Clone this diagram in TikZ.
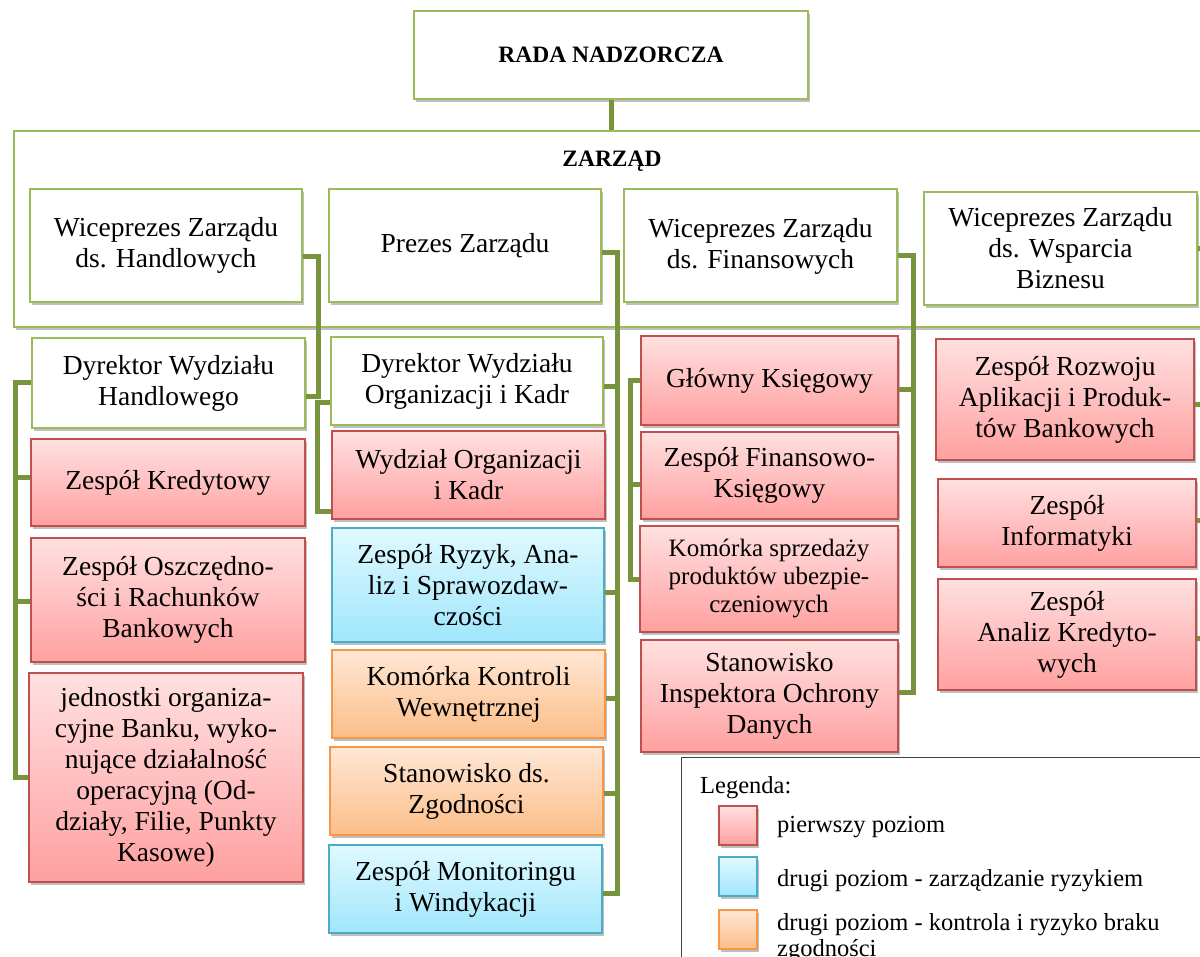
\documentclass[tikz,border=0pt]{standalone}
\usepackage{fontspec}
\setmainfont{Liberation Serif}
\usetikzlibrary{shadows}
\definecolor{gborder}{RGB}{155,187,89}
\definecolor{conncol}{RGB}{119,147,60}
\definecolor{redtop}{RGB}{255,224,224}
\definecolor{redbot}{RGB}{255,160,160}
\definecolor{redbd}{RGB}{192,80,77}
\definecolor{bluetop}{RGB}{224,249,255}
\definecolor{bluebot}{RGB}{160,230,252}
\definecolor{bluebd}{RGB}{75,172,198}
\definecolor{ortop}{RGB}{255,231,214}
\definecolor{orbot}{RGB}{252,190,136}
\definecolor{orbd}{RGB}{247,150,70}
\begin{document}
\begin{tikzpicture}[x=1pt,y=-1pt,
  base/.style={rectangle, align=center, inner sep=2pt, line width=2pt, text=black,
    font=\fontsize{27.5}{31}\selectfont,
    drop shadow={shadow xshift=2pt, shadow yshift=-3pt, opacity=0.25, fill=black}},
  sz/.style 2 args={minimum width=#1pt, minimum height=#2pt},
  greenbox/.style={base, draw=gborder, fill=white},
  redbox/.style={base, draw=redbd, top color=redtop, bottom color=redbot},
  bluebox/.style={base, draw=bluebd, top color=bluetop, bottom color=bluebot},
  orbox/.style={base, draw=orbd, top color=ortop, bottom color=orbot},
  boldtxt/.style={font=\fontsize{23.5}{28}\selectfont\bfseries},
  smalltxt/.style={font=\fontsize{25}{28}\selectfont},
  legtxt/.style={font=\fontsize{24.5}{26}\selectfont, align=left, inner sep=0pt},
  conn/.style={draw=conncol, line width=5pt},
]
\useasboundingbox (0,0) rectangle (1200,957);
\fill[white] (0,0) rectangle (1200,957);

% top
\node[greenbox, sz={394}{88}, boldtxt] (rada) at (611,55) {RADA NADZORCZA};
\node[greenbox, anchor=north west, sz={1215}{196}] (zarzad) at (13,130) {};
\node[boldtxt, anchor=base] (zarzadt) at (612,167) {ZARZĄD};

% board members
\node[greenbox, sz={272}{113}] (wh) at (166,245.5) {Wiceprezes Zarządu\\ds. Handlowych};
\node[greenbox, sz={272}{113}] (pz) at (465,245.5) {Prezes Zarządu};
\node[greenbox, sz={273}{113}] (wf) at (760.5,246) {Wiceprezes Zarządu\\ds. Finansowych};
\node[greenbox, sz={273}{113}] (ww) at (1060.5,248.5) {Wiceprezes Zarządu\\ds. Wsparcia\\Biznesu};

% column 1
\node[greenbox, sz={273}{90}] (dh) at (168.5,383) {Dyrektor Wydziału\\Handlowego};
\node[redbox, sz={274}{87}] (kr) at (168,482.5) {Zespół Kredytowy};
\node[redbox, sz={274}{124}] (os) at (168,600) {Zespół Oszczędno-\\ści i Rachunków\\Bankowych};
\node[redbox, sz={274}{209}] (jo) at (166,777.5) {jednostki organiza-\\cyjne Banku, wyko-\\nujące działalność\\operacyjną (Od-\\działy, Filie, Punkty\\Kasowe)};

% column 2
\node[greenbox, sz={272}{88}] (dor) at (467,381) {Dyrektor Wydziału\\Organizacji i Kadr};
\node[redbox, sz={273}{88}] (wor) at (468.5,475) {Wydział Organizacji\\i Kadr};
\node[bluebox, sz={272}{114}] (ry) at (468,585) {Zespół Ryzyk, Ana-\\liz i Sprawozdaw-\\czości};
\node[orbox, sz={273}{88}] (kk) at (468.5,694) {Komórka Kontroli\\Wewnętrznej};
\node[orbox, sz={273}{88}] (zg) at (466.5,791) {Stanowisko ds.\\Zgodności};
\node[bluebox, sz={273}{88}] (mon) at (465.5,889) {Zespół Monitoringu\\i Windykacji};

% column 3
\node[redbox, sz={257}{89}] (gk) at (769.5,380.5) {Główny Księgowy};
\node[redbox, sz={257}{87}] (fk) at (769.5,475.5) {Zespół Finansowo-\\Księgowy};
\node[redbox, sz={258}{106}, smalltxt] (ks) at (769,579) {Komórka sprzedaży\\produktów ubezpie-\\czeniowych};
\node[redbox, sz={257}{112}] (ins) at (769.5,696) {Stanowisko\\Inspektora Ochrony\\Danych};

% column 4
\node[redbox, sz={258}{121}] (ro) at (1065,399.5) {Zespół Rozwoju\\Aplikacji i Produk-\\tów Bankowych};
\node[redbox, sz={258}{88}] (inf) at (1067,523) {Zespół\\Informatyki};
\node[redbox, sz={258}{111}] (an) at (1067,634.5) {Zespół\\Analiz Kredyto-\\wych};

% connectors
\draw[conn] (rada.south) -- (zarzad.north -| rada.south);

\draw[conn] ([yshift=-11pt]wh.east) -- ++(15,0) |- ([yshift=-14pt]dh.east);

\draw[conn] ([yshift=-7pt]pz.east) -- ++(15,0) coordinate (pbus) |- ([yshift=-4pt]mon.east);
\draw[conn] ([yshift=-6pt]dor.east) -| (pbus);
\draw[conn] ([yshift=-7pt]ry.east) -| (pbus);
\draw[conn] ([yshift=-4pt]kk.east) -| (pbus);
\draw[conn] ([yshift=-2pt]zg.east) -| (pbus);

\draw[conn] ([yshift=-10pt]wf.east) -- ++(15,0) coordinate (fbus) |- ([yshift=4pt]ins.east);
\draw[conn] ([yshift=-9.5pt]gk.east) -| (fbus);

\draw[conn] (ww.east) -- ++(15,0) coordinate (wbus) |- ([yshift=-3.5pt]an.east);
\draw[conn] ([yshift=-5.5pt]ro.east) -| (wbus);
\draw[conn] ([yshift=3pt]inf.east) -| (wbus);

\draw[conn] (dh.west) -- ++(-16,0) coordinate (hbus) |- (jo.west);
\draw[conn] ([yshift=4.5pt]kr.west) -| (hbus);
\draw[conn] ([yshift=-1pt]os.west) -| (hbus);

\draw[conn] ([yshift=-22pt]dor.west) -- ++(-13,0) |- ([yshift=-36pt]wor.west);

\draw[conn] (gk.west) -- ++(-10,0) coordinate (gbus) |- (ks.west);
\draw[conn] ([yshift=-9.5pt]fk.west) -| (gbus);

% legend
\node[draw=black!75, line width=1pt, fill=white, anchor=north west, sz={540}{220}] (leg) at (681,757) {};
\node[legtxt, anchor=base west] (legt) at (700,793) {Legenda:};
\node[redbox, sz={38}{39}, inner sep=0pt] (lr) at (738,825.5) {};
\node[bluebox, sz={38}{39}, inner sep=0pt] (lb) at (738,876.5) {};
\node[orbox, sz={38}{39}, inner sep=0pt] (lo) at (738,929.5) {};
\node[legtxt, anchor=base west] (lrt) at (777,832) {pierwszy poziom};
\node[legtxt, anchor=base west] (lbt) at (777,886) {drugi poziom - zarządzanie ryzykiem};
\node[legtxt, anchor=north west] (lot) at (777,913) {drugi poziom - kontrola i ryzyko braku\\zgodności};
\end{tikzpicture}
\end{document}
